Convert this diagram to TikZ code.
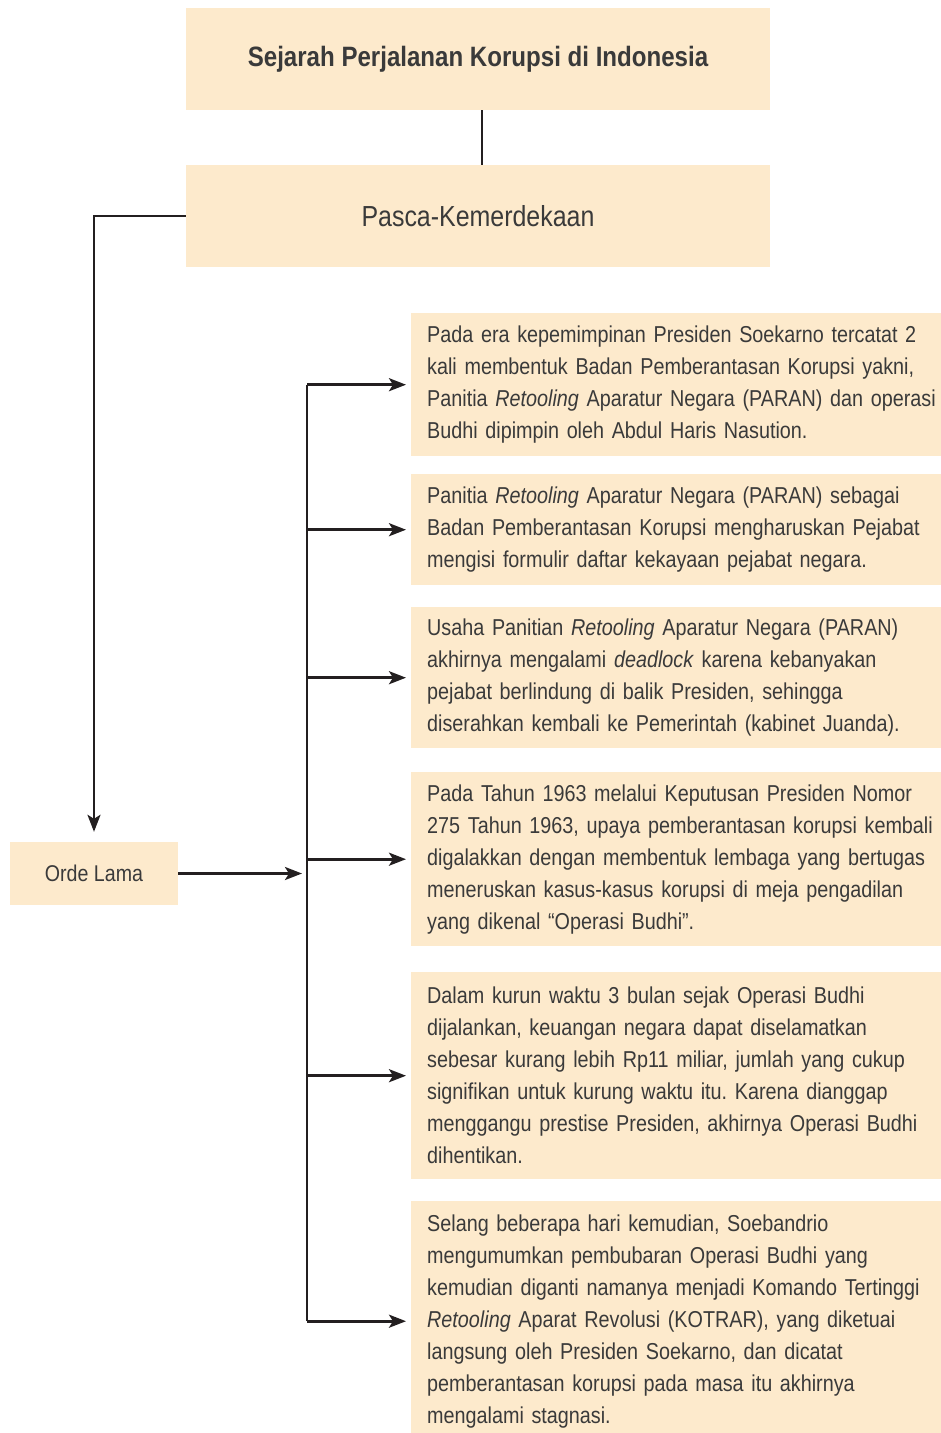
\documentclass[tikz,border=0pt]{standalone}
\usepackage{fontspec}
\setmainfont{Liberation Sans}[FakeStretch=0.86]
\frenchspacing
\usetikzlibrary{arrows.meta}
\definecolor{peach}{RGB}{253,234,204}
\definecolor{ink}{RGB}{35,31,32}
\definecolor{txt}{RGB}{58,58,58}
\tikzstyle{head} = [rectangle, minimum width=584pt, minimum height=102pt, inner sep=0, fill=peach, text=txt]
\tikzstyle{era} = [rectangle, minimum width=168pt, minimum height=63pt, inner sep=0, fill=peach, text=txt, font=\fontsize{22.8}{26}\selectfont]
\tikzstyle{info} = [rectangle, anchor=north west, text width=540pt, inner xsep=16pt, inner ysep=0, align=left, fill=peach, text=txt, font=\fontsize{23}{32}\selectfont]
\tikzstyle{line} = [line width=2.6pt, ink]
\tikzstyle{arrow} = [line width=2.6pt, ink, -{Stealth[length=17pt,width=13pt,inset=4pt]}]

\begin{document}
\begin{tikzpicture}[x=1pt,y=-1pt]
\useasboundingbox (0,0) rectangle (941,1433);

\node[head, font=\fontsize{28}{32}\selectfont\bfseries] (title) at (478,59) {Sejarah Perjalanan Korupsi di Indonesia};
\node[head, font=\fontsize{29}{32}\selectfont] (pasca) at (478,216) {Pasca-Kemerdekaan};
\node[era] (orde) at (94,873.5) {Orde Lama};

\node[info, minimum height=143pt] (b1) at (411,313) {Pada era kepemimpinan Presiden Soekarno tercatat 2\\
kali membentuk Badan Pemberantasan Korupsi yakni,\\
Panitia \textit{Retooling} Aparatur Negara (PARAN) dan operasi\\
Budhi dipimpin oleh Abdul Haris Nasution.};
\node[info, minimum height=111pt] (b2) at (411,474) {Panitia \textit{Retooling} Aparatur Negara (PARAN) sebagai\\
Badan Pemberantasan Korupsi mengharuskan Pejabat\\
mengisi formulir daftar kekayaan pejabat negara.};
\node[info, minimum height=141pt] (b3) at (411,607) {Usaha Panitian \textit{Retooling} Aparatur Negara (PARAN)\\
akhirnya mengalami \textit{deadlock} karena kebanyakan\\
pejabat berlindung di balik Presiden, sehingga\\
diserahkan kembali ke Pemerintah (kabinet Juanda).};
\node[info, minimum height=174pt] (b4) at (411,772) {Pada Tahun 1963 melalui Keputusan Presiden Nomor\\
275 Tahun 1963, upaya pemberantasan korupsi kembali\\
digalakkan dengan membentuk lembaga yang bertugas\\
meneruskan kasus-kasus korupsi di meja pengadilan\\
yang dikenal “Operasi Budhi”.};
\node[info, minimum height=207pt] (b5) at (411,972) {Dalam kurun waktu 3 bulan sejak Operasi Budhi\\
dijalankan, keuangan negara dapat diselamatkan\\
sebesar kurang lebih Rp11 miliar, jumlah yang cukup\\
signifikan untuk kurung waktu itu. Karena dianggap\\
menggangu prestise Presiden, akhirnya Operasi Budhi\\
dihentikan.};
\node[info, minimum height=240pt] (b6) at (411,1201) {Selang beberapa hari kemudian, Soebandrio\\
mengumumkan pembubaran Operasi Budhi yang\\
kemudian diganti namanya menjadi Komando Tertinggi\\
\textit{Retooling} Aparat Revolusi (KOTRAR), yang diketuai\\
langsung oleh Presiden Soekarno, dan dicatat\\
pemberantasan korupsi pada masa itu akhirnya\\
mengalami stagnasi.};

\coordinate (trunk) at (307,0);
\draw[line] ([xshift=4pt]title.south) -- ([xshift=4pt]pasca.north);
\draw[arrow, shorten >=10pt] (pasca.west) -| (orde.north);
\draw[arrow, shorten >=5pt] (orde.east) -- (trunk |- orde.east);
\draw[line] (trunk |- b1.west) -- (trunk |- b6.west);
\foreach \i in {1,...,6}{
	\draw[arrow, shorten >=5pt] (trunk |- b\i.west) -- (b\i.west);}
\end{tikzpicture}
\end{document}
